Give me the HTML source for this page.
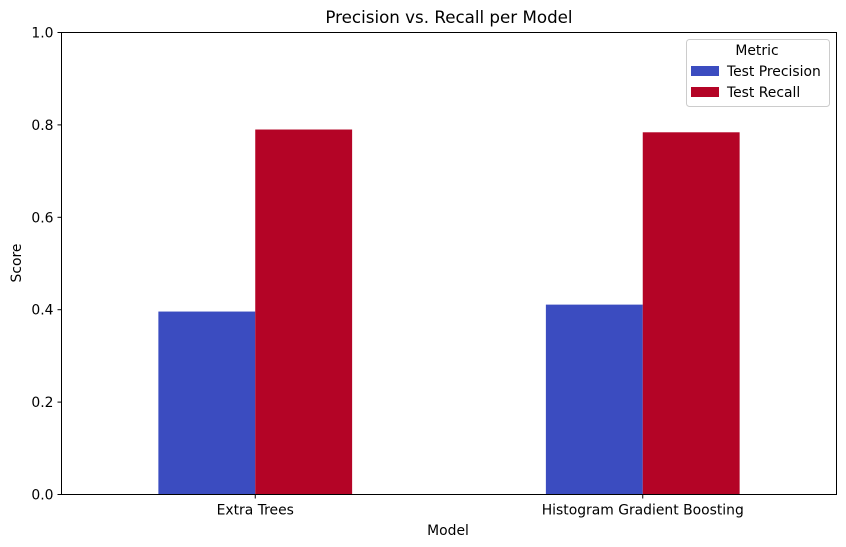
<!DOCTYPE html>
<html><head><meta charset="utf-8"><style>
body{margin:0;background:#fff;}
svg{display:block;font-family:"DejaVu Sans","Liberation Sans",sans-serif;}
</style></head><body>
<svg id="chart" width="846" height="547" viewBox="0 0 846 547" xmlns="http://www.w3.org/2000/svg">
<rect width="846" height="547" fill="#fff"/>
<text x="449" y="23" text-anchor="middle" font-size="16.7" fill="#000">Precision vs. Recall per Model</text>
<g id="bars"></g>
<g id="yticks"></g>
<g id="xticks"></g>
<rect x="61.5" y="32.5" width="775" height="462" fill="none" stroke="#000" stroke-width="1"/>
<text transform="translate(21,263) rotate(-90)" text-anchor="middle" font-size="13.9">Score</text>
<text x="448" y="535" text-anchor="middle" font-size="13.9">Model</text>
<g>
<rect x="686.5" y="39.5" width="143" height="67" rx="3" fill="#fff" fill-opacity="0.8" stroke="#ccc"/>
<text x="757" y="55" text-anchor="middle" font-size="13.9">Metric</text>
<g><rect x="691" y="66" width="28" height="10" fill="#3b4cc0"/><text x="727" y="76" font-size="13.9">Test Precision</text></g>
<g><rect x="691" y="87" width="28" height="10" fill="#b40426"/><text x="727" y="97" font-size="13.9">Test Recall</text></g>
</g>
</svg>
<script>
const categories = ["Extra Trees", "Histogram Gradient Boosting"];
const seriesNames = ["Test Precision", "Test Recall"];
const precision = [0.396, 0.411];
const recall = [0.790, 0.784];
const yTicks = [0.0, 0.2, 0.4, 0.6, 0.8, 1.0];
const colors = ["#3b4cc0", "#b40426"];

const NS = "http://www.w3.org/2000/svg";
const X0 = 61.5, W = 775, Y0 = 494.5, H = 462;
function xScale(v){ return X0 + (v + 0.5) / categories.length * W; }
function yScale(v){ return Y0 - v * H; }
const unit = W / categories.length;
const bw = 0.25 * unit;
const bars = document.getElementById("bars");
const series = [precision, recall];
series.forEach((vals, s) => {
  vals.forEach((v, i) => {
    const r = document.createElementNS(NS, "rect");
    const cx = xScale(i);
    r.setAttribute("x", cx + (s - 1) * bw);
    r.setAttribute("y", yScale(v));
    r.setAttribute("width", bw);
    r.setAttribute("height", yScale(0) - yScale(v));
    r.setAttribute("fill", colors[s]);
    
    
    bars.appendChild(r);
  });
});
const yt = document.getElementById("yticks");
yTicks.forEach(t => {
  const y = yScale(t);
  const l = document.createElementNS(NS, "line");
  l.setAttribute("x1", X0 - 4); l.setAttribute("x2", X0);
  l.setAttribute("y1", y); l.setAttribute("y2", y);
  l.setAttribute("stroke", "#000");
  
  
  yt.appendChild(l);
  const tx = document.createElementNS(NS, "text");
  tx.setAttribute("x", X0 - 8); tx.setAttribute("y", y + 5);
  tx.setAttribute("text-anchor", "end"); tx.setAttribute("font-size", "13.9");
  tx.textContent = t.toFixed(1);
  
  
  yt.appendChild(tx);
});
const xt = document.getElementById("xticks");
categories.forEach((c, i) => {
  const x = xScale(i);
  const l = document.createElementNS(NS, "line");
  l.setAttribute("x1", x); l.setAttribute("x2", x);
  l.setAttribute("y1", Y0); l.setAttribute("y2", Y0 + 4);
  l.setAttribute("stroke", "#000");
  
  
  xt.appendChild(l);
  const tx = document.createElementNS(NS, "text");
  tx.setAttribute("x", x); tx.setAttribute("y", Y0 + 20);
  tx.setAttribute("text-anchor", "middle"); tx.setAttribute("font-size", "13.9");
  tx.textContent = c;
  
  
  xt.appendChild(tx);
});
</script>
</body></html>
